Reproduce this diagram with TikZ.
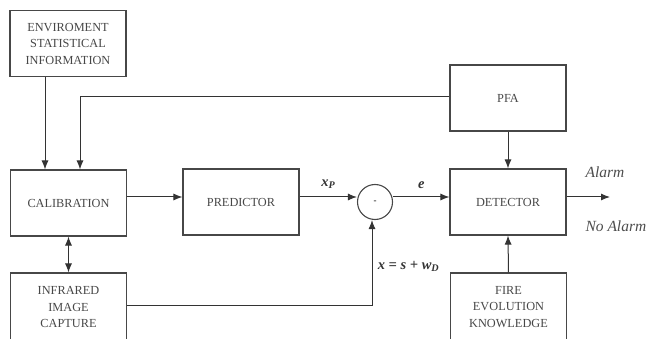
\documentclass[tikz,border=0pt]{standalone}
\usepackage{fontspec}
\setmainfont{Liberation Serif}
\usetikzlibrary{arrows.meta}
\begin{document}
\begin{tikzpicture}[x=1pt,y=-1pt,
  blk/.style={draw=black!72, line width=1.1pt, minimum width=116pt, minimum height=66pt, align=center, font=\fontsize{12.3}{16.5}\selectfont, text=black!72, inner sep=0pt},
  conn/.style={draw=black!80, line width=1pt},
  arr/.style={conn, -{Latex[length=9pt,width=7pt]}},
  lbl/.style={font=\fontsize{15.5}{18}\selectfont\itshape, text=black!70},
  mlbl/.style={font=\fontsize{14.5}{17}\selectfont\bfseries\itshape, text=black!80}]
\useasboundingbox (0,0) rectangle (648,339);
\node[blk] (env) at (68,43.5) {ENVIROMENT\\STATISTICAL\\INFORMATION};
\node[blk] (cal) at (68.5,203) {CALIBRATION};
\node[blk] (pred) at (241,202) {PREDICTOR};
\node[blk] (pfa) at (508,98) {PFA};
\node[blk] (det) at (508,202) {DETECTOR};
\node[blk, minimum height=68pt] (ir) at (68.5,307) {INFRARED\\IMAGE\\CAPTURE};
\node[blk, minimum height=68pt] (fire) at (508.5,307) {FIRE\\EVOLUTION\\KNOWLEDGE};
\node[draw=black!72, line width=1.1pt, circle, minimum size=35pt, inner sep=0pt, font=\small] (sum) at (375,202) {-};
\coordinate (out) at (610,197);
\draw[arr] (env.south -| 45,0) -- (cal.north -| 45,0);
\draw[arr] (pfa.west |- 0,97) -- (80,97) -- (cal.north -| 80,0);
\draw[arr] (pfa.south) -- (det.north);
\draw[arr] (cal.east |- 0,197) -- (pred.west |- 0,197);
\draw[arr] (pred.east |- 0,197) -- node[above=5pt, mlbl] {x\textsubscript{P}} (sum.west |- 0,197);
\draw[arr] (sum.east |- 0,197) -- node[above=5pt, mlbl] {e} (det.west |- 0,197);
\draw[arr] (det.east |- 0,197) -- (out);
\draw[conn, {Latex[length=9pt,width=7pt]}-{Latex[length=9pt,width=7pt]}] (cal.south) -- (ir.north);
\draw[arr] (ir.east |- 0,305) -- (372,305) -- node[right=2pt, pos=0.45, mlbl] {x = s + w\textsubscript{D}} (sum.south -| 372,0);
\draw[arr] (fire.north) -- (det.south);
\node[lbl, anchor=west] (alarm) at (582,172) {Alarm};
\node[lbl, anchor=west] (noalarm) at (582,226) {No Alarm};
\end{tikzpicture}
\end{document}
